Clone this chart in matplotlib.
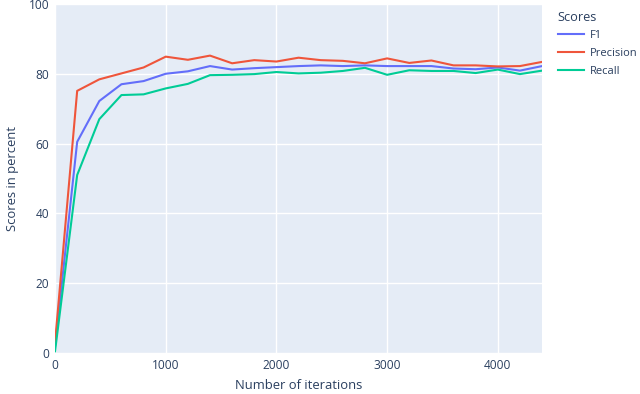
import matplotlib.pyplot as plt

# Scores over training iterations
iterations = [0, 200, 400, 600, 800, 1000, 1200, 1400, 1600, 1800, 2000, 2200,
              2400, 2600, 2800, 3000, 3200, 3400, 3600, 3800, 4000, 4200, 4400]
f1 = [2, 60.5, 72.2, 77.0, 77.9, 80.0, 80.7, 82.2, 81.2, 81.6, 81.9, 82.2,
      82.4, 82.2, 82.4, 82.2, 82.2, 82.2, 81.5, 81.3, 81.8, 80.9, 82.2]
precision = [3, 75.1, 78.4, 80.1, 81.8, 84.9, 84.0, 85.2, 83.0, 83.9, 83.5, 84.6,
             83.9, 83.7, 83.0, 84.4, 83.1, 83.8, 82.4, 82.4, 82.1, 82.2, 83.4]
recall = [0.5, 51.0, 67.0, 73.9, 74.1, 75.8, 77.1, 79.6, 79.7, 79.9, 80.5, 80.1,
          80.3, 80.8, 81.7, 79.7, 81.0, 80.8, 80.8, 80.2, 81.2, 79.9, 80.9]

series = [("F1", f1, "#636efa"), ("Precision", precision, "#EF553B"),
          ("Recall", recall, "#00cc96")]

text_color = "#2a3f5f"
plt.rcParams["font.family"] = ["Open Sans", "DejaVu Sans"]

fig = plt.figure(figsize=(6.4, 3.94), dpi=100)
ax = fig.add_axes([0.086, 0.104, 0.761, 0.886])
ax.set_facecolor("#E5ECF6")

for name, vals, color in series:
    ax.plot(iterations, vals, color=color, linewidth=1.5, label=name)

ax.set_xlim(0, 4400)
ax.set_ylim(0, 100)
ax.set_xticks([0, 1000, 2000, 3000, 4000])
ax.set_yticks([0, 20, 40, 60, 80, 100])
ax.grid(True, color="white", linewidth=1)
ax.set_axisbelow(True)
for s in ax.spines.values():
    s.set_visible(False)
ax.tick_params(length=0, labelsize=8.6, colors=text_color, pad=4)

ax.set_xlabel("Number of iterations", fontsize=9.4, color=text_color, labelpad=5)
ax.set_ylabel("Scores in percent", fontsize=9.4, color=text_color, labelpad=7)

leg = ax.legend(loc="upper left", bbox_to_anchor=(0.859, 0.993),
                bbox_transform=fig.transFigure, frameon=False, fontsize=8.0,
                title="Scores", title_fontsize=9.2, handlelength=2.4,
                handletextpad=0.5, labelspacing=0.6, alignment="left",
                borderpad=0.2)
for t in leg.get_texts():
    t.set_color(text_color)
leg.get_title().set_color(text_color)

plt.savefig("out.png", dpi=100)
plt.close()
